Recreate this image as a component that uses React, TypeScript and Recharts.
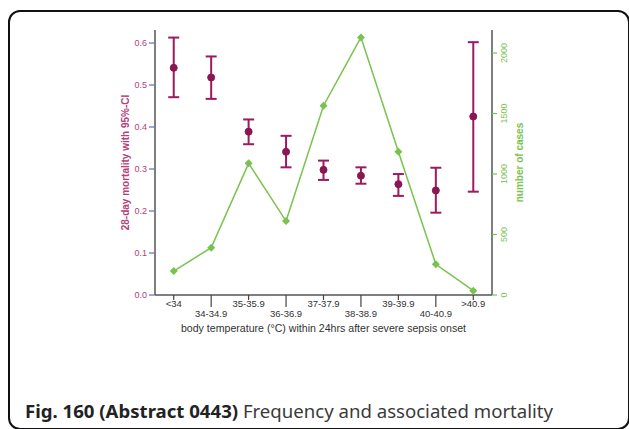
import {
  ComposedChart,
  Line,
  XAxis,
  YAxis,
  ErrorBar,
} from 'recharts'

const CATEGORIES = ['<34', '34-34.9', '35-35.9', '36-36.9', '37-37.9', '38-38.9', '39-39.9', '40-40.9', '>40.9']
const MORTALITY = [0.541, 0.518, 0.389, 0.341, 0.298, 0.284, 0.264, 0.249, 0.425]
const CI_LOW = [0.471, 0.467, 0.359, 0.304, 0.274, 0.265, 0.236, 0.196, 0.246]
const CI_HIGH = [0.613, 0.568, 0.418, 0.379, 0.32, 0.304, 0.288, 0.303, 0.602]
const CASES = [198, 391, 1088, 611, 1564, 2129, 1184, 254, 36]
const LEFT_TICKS = [0, 0.1, 0.2, 0.3, 0.4, 0.5, 0.6]
const RIGHT_TICKS = [0, 500, 1000, 1500, 2000]

const data = CATEGORIES.map((cat, i) => ({
  cat,
  mort: MORTALITY[i],
  ci: [MORTALITY[i] - CI_LOW[i], CI_HIGH[i] - MORTALITY[i]],
  cases: CASES[i],
}))

const MAROON = '#8c1553'
const PINK = '#b4407c'
const GREEN = '#78c24f'
const FRAME = '#555'
const FONT = '"Liberation Sans", Arial, sans-serif'

function XTick({ x, y, payload, index }: any) {
  const low = index % 2 === 1
  return (
    <g>
      <line x1={x} y1={y - 8} x2={x} y2={y - 8 + (low ? 12 : 5)} stroke="#444" strokeWidth={1.2} />
      <text x={x} y={y + (low ? 14 : 4)} textAnchor="middle" fontSize={9.5} fill="#333" fontFamily={FONT}>
        {payload.value}
      </text>
    </g>
  )
}

// x is the axis line position (tickSize and tickMargin are 0)
function LeftTick({ x, y, payload }: any) {
  return (
    <g>
      <line x1={x - 6} y1={y} x2={x} y2={y} stroke="#5b6fc2" strokeWidth={1.2} />
      <text x={x - 8} y={y + 3.2} textAnchor="end" fontSize={9} fill={PINK} fontFamily={FONT}>
        {payload.value.toFixed(1)}
      </text>
    </g>
  )
}

function RightTick({ x, y, payload }: any) {
  return (
    <g>
      <line x1={x} y1={y} x2={x + 5} y2={y} stroke={GREEN} strokeWidth={1.2} />
      <text
        x={x + 15}
        y={y}
        textAnchor="middle"
        fontSize={9}
        fill={GREEN}
        fontFamily={FONT}
        transform={`rotate(-90 ${x + 15} ${y})`}
      >
        {payload.value}
      </text>
    </g>
  )
}

function Diamond({ cx, cy }: any) {
  if (cx == null || cy == null) return null
  return <path d={`M${cx},${cy - 4} L${cx + 4},${cy} L${cx},${cy + 4} L${cx - 4},${cy} Z`} fill={GREEN} />
}

export default function App() {
  return (
    <div style={{ position: 'absolute', left: 0, top: 0, width: 629, height: 429, overflow: 'hidden', background: '#fff' }}>
      <div
        style={{
          position: 'absolute',
          left: 8,
          top: 10,
          width: 622,
          height: 420,
          border: '2px solid #111',
          borderRadius: 12,
          boxSizing: 'border-box',
        }}
      />
      <div style={{ position: 'absolute', left: 0, top: 0 }}>
        <ComposedChart
          width={629}
          height={360}
          data={data}
          margin={{ top: 30, right: 87, bottom: 20, left: 95 }}
        >
          <XAxis
            xAxisId="top"
            orientation="top"
            dataKey="cat"
            scale="band"
            height={0}
            tick={false}
            tickLine={false}
            axisLine={{ stroke: FRAME, strokeWidth: 1.5 }}
          />
          <XAxis
            dataKey="cat"
            scale="band"
            height={45}
            interval={0}
            tickLine={false}
            axisLine={{ stroke: FRAME, strokeWidth: 1.5 }}
            tick={<XTick />}
            label={{
              value: 'body temperature (°C) within 24hrs after severe sepsis onset',
              position: 'insideBottom',
              offset: 8,
              style: { fontSize: 10.6, fill: '#333', fontFamily: FONT },
            }}
          />
          <YAxis
            yAxisId="left"
            width={60}
            domain={[0, 0.631]}
            ticks={LEFT_TICKS}
            tickLine={false}
            tickSize={0}
            tickMargin={0}
            axisLine={{ stroke: FRAME, strokeWidth: 1.5 }}
            tick={<LeftTick />}
            label={{
              value: '28-day mortality with 95%-CI',
              angle: -90,
              position: 'insideLeft',
              offset: 30,
              style: { fontSize: 10, fontWeight: 'bold', fill: PINK, fontFamily: FONT, textAnchor: 'middle' },
            }}
          />
          <YAxis
            yAxisId="right"
            orientation="right"
            width={50}
            domain={[0, 2190]}
            ticks={RIGHT_TICKS}
            tickLine={false}
            tickSize={0}
            tickMargin={0}
            axisLine={{ stroke: FRAME, strokeWidth: 1.5 }}
            tick={<RightTick />}
            label={{
              value: 'number of cases',
              angle: -90,
              position: 'insideRight',
              offset: 23,
              style: { fontSize: 10, fontWeight: 'bold', fill: GREEN, fontFamily: FONT, textAnchor: 'middle' },
            }}
          />
          <Line
            yAxisId="right"
            dataKey="cases"
            stroke={GREEN}
            strokeWidth={1.5}
            dot={<Diamond />}
            activeDot={false}
            isAnimationActive={false}
          />
          <Line
            yAxisId="left"
            dataKey="mort"
            stroke="none"
            dot={{ r: 3.5, fill: MAROON, stroke: MAROON }}
            activeDot={false}
            isAnimationActive={false}
          >
            <ErrorBar dataKey="ci" width={5.5} stroke="#9a1c5e" strokeWidth={2} direction="y" />
          </Line>
        </ComposedChart>
      </div>
      <div
        style={{
          position: 'absolute',
          left: 25,
          top: 398,
          fontFamily: '"Noto Sans", sans-serif',
          fontSize: 18.6,
          color: '#3a3a3a',
          whiteSpace: 'nowrap',
        }}
      >
        <span style={{ fontWeight: 'bold', color: '#222' }}>Fig. 160 (Abstract 0443)</span> Frequency and associated mortality
      </div>
    </div>
  )
}
